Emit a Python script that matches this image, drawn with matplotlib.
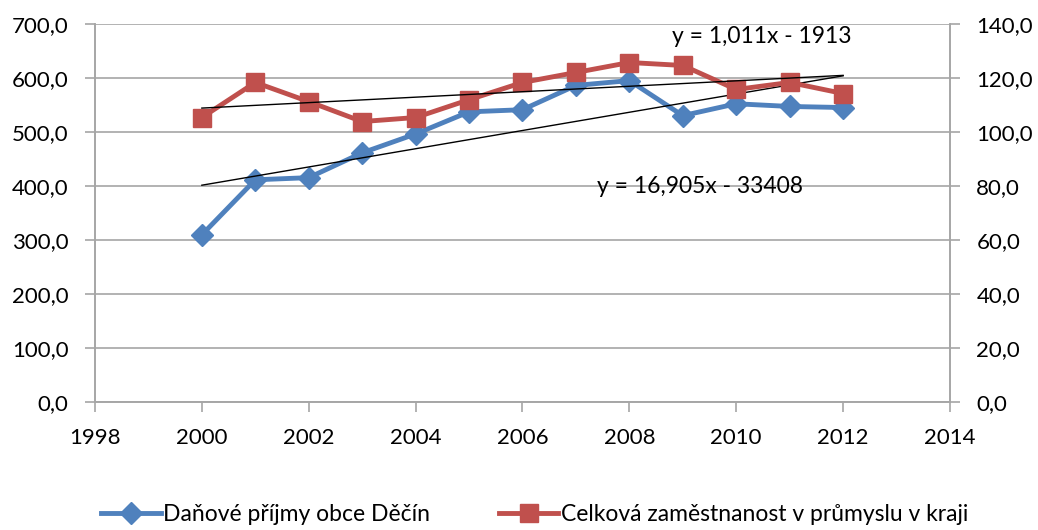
import numpy as np
import matplotlib.pyplot as plt
from matplotlib.ticker import FuncFormatter, MultipleLocator

plt.rcParams['font.family'] = ['Lato', 'DejaVu Sans']

years = np.arange(2000, 2013)
prijmy = [310, 412, 416, 462, 497, 538, 542, 587, 596, 531, 553, 548, 546]
zamestnanost = [105.5, 118.5, 111.4, 104.0, 105.5, 112.1, 118.5, 122.2, 125.9, 124.8, 115.9, 118.5, 114.4]
trend_prijmy = (16.905, -33408)
trend_zam = (1.011, -1913)

blue = "#4f81bd"
red = "#c0504d"
grey = "#a6a6a6"

fig = plt.figure(figsize=(10.38, 5.30), dpi=100)
ax = fig.add_axes([0.0915, 0.2415, 0.8237, 0.7123])
ax2 = ax.twinx()

comma = FuncFormatter(lambda v, p: "{:.1f}".format(v).replace(".", ","))

ax.set_xlim(1998, 2014)
ax.set_ylim(0, 700)
ax2.set_ylim(0, 140)
ax.xaxis.set_major_locator(MultipleLocator(2))
ax.yaxis.set_major_locator(MultipleLocator(100))
ax2.yaxis.set_major_locator(MultipleLocator(20))
ax.yaxis.set_major_formatter(comma)
ax2.yaxis.set_major_formatter(comma)

ax.grid(axis="y", color=grey, linewidth=1.2)
ax.set_axisbelow(True)
for a in (ax, ax2):
    for s in a.spines.values():
        s.set_color(grey)
        s.set_linewidth(1.2)
    a.spines["top"].set_visible(False)
    a.tick_params(colors=grey, labelcolor="black", labelsize=16, length=7, width=1.2, pad=12)
ax.tick_params(axis="x", pad=12, labelsize=16)

l1, = ax.plot(years, prijmy, color=blue, linewidth=3.5, marker="D", markersize=11,
              label="Daňové příjmy obce Děčín", zorder=3)
l2, = ax2.plot(years, zamestnanost, color=red, linewidth=3.5, marker="s", markersize=13,
               label="Celková zaměstnanost v průmyslu v kraji", zorder=2)

tx = np.array([years[0], years[-1]])
ax.plot(tx, trend_prijmy[0] * tx + trend_prijmy[1], color="black", linewidth=1, zorder=4)
ax2.plot(tx, trend_zam[0] * tx + trend_zam[1], color="black", linewidth=1, zorder=4)

ax.text(2007.4, 400, "y = 16,905x - 33408", fontsize=16.5, va="center")
ax.text(2008.8, 678, "y = 1,011x - 1913", fontsize=16.5, va="center")

fig.legend(handles=[l1, l2], loc="lower center", bbox_to_anchor=(0.515, -0.03), ncol=2,
           frameon=False, fontsize=16.5, handlelength=2.6, columnspacing=3, handletextpad=0.1)

fig.savefig("out.png", dpi=100)
